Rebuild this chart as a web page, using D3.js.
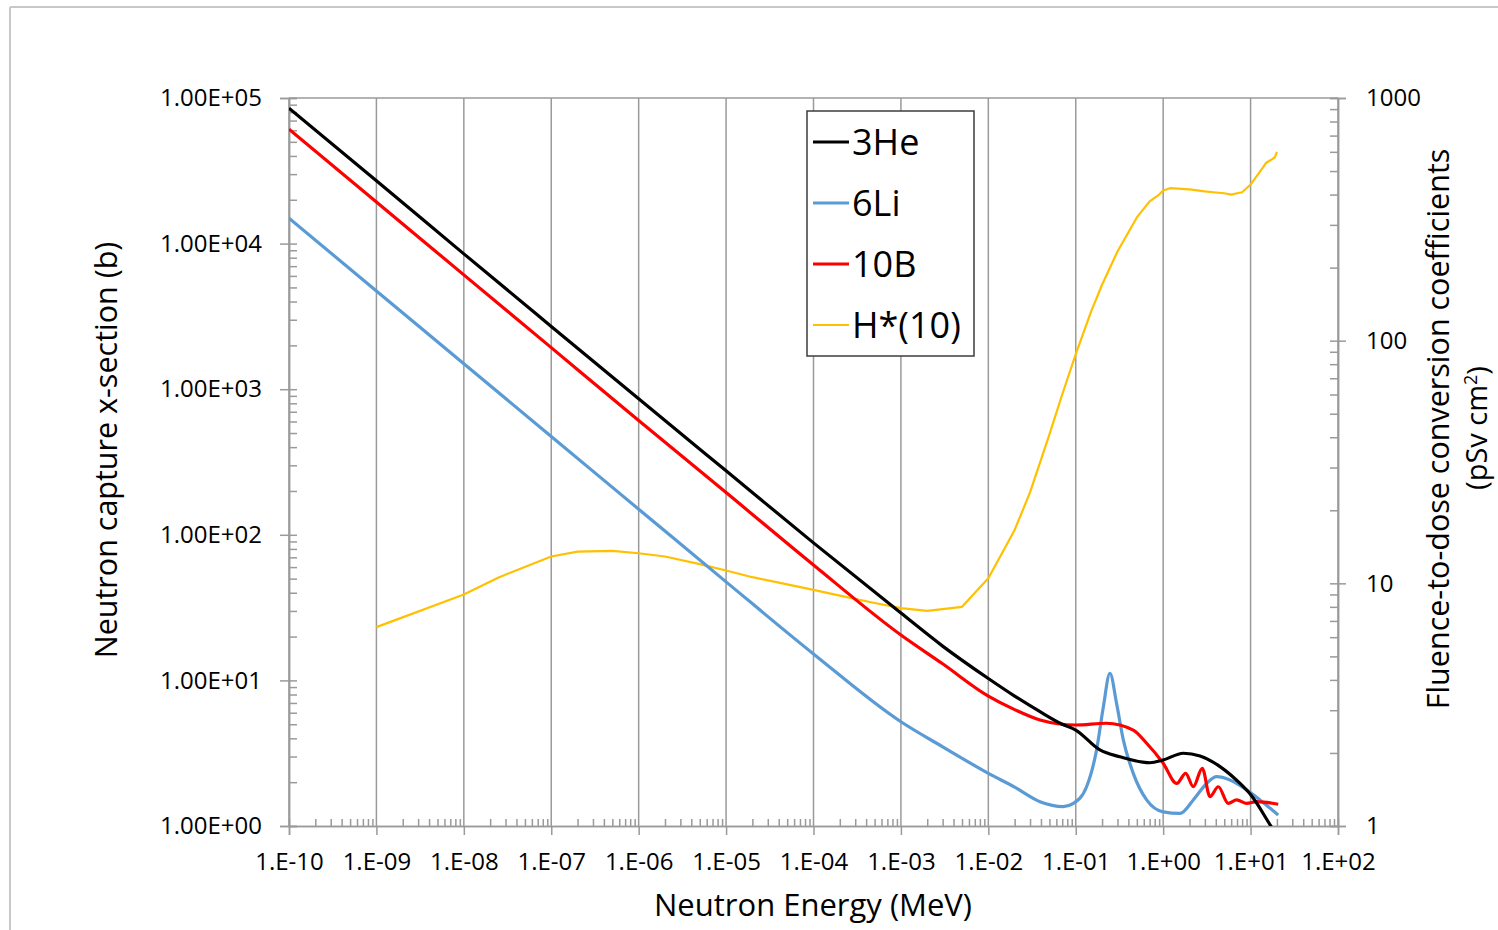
<!doctype html>
<html>
<head>
<meta charset="UTF-8">
<title>Neutron capture x-section</title>
<script src="https://cdn.jsdelivr.net/npm/d3@7"></script>
<style>
  body { margin: 0; background: #fff; }
  svg text { font-family: "Open Sans", Lato, sans-serif; fill: #000; }
</style>
</head>
<body>
<svg id="chart" width="1498" height="930"></svg>
<script>
// energies in MeV, cross sections in barns, H*(10) in pSv cm2
var heE = [1e-10, 1e-9, 1e-8, 1e-7, 1e-6, 1e-5, 1e-4, 1e-3, 3e-3, 1e-2, 0.02, 0.039, 0.07, 0.1, 0.189, 0.32, 0.706, 1.0, 1.7, 2.64, 4.47, 7.57, 10.1, 16.7, 20];
var heS = [85000, 27000, 8500, 2700, 860, 275, 88, 29, 17.2, 10.3, 7.8, 6.1, 5.0, 4.56, 3.33, 2.99, 2.72, 2.84, 3.16, 3.03, 2.56, 1.96, 1.63, 1.02, 0.86];

var liE = [1e-10, 1e-9, 1e-8, 1e-7, 1e-6, 1e-5, 1e-4, 1e-3, 3e-3, 1e-2, 0.02, 0.039, 0.072, 0.094, 0.133, 0.173, 0.207, 0.246, 0.293, 0.35, 0.455, 0.647, 1.0, 1.56, 2.21, 3.14, 4.09, 5.81, 9.02, 12.8, 20.7];
var liS = [14950, 4730, 1495, 473, 150, 47.5, 15.2, 5.2, 3.5, 2.3, 1.85, 1.47, 1.36, 1.43, 1.86, 3.33, 6.6, 11.2, 6.96, 3.9, 2.3, 1.51, 1.25, 1.22, 1.51, 1.96, 2.18, 2.07, 1.77, 1.51, 1.19];

var bE = [1e-10, 1e-9, 1e-8, 1e-7, 1e-6, 1e-5, 1e-4, 1e-3, 3e-3, 1e-2, 0.02, 0.039, 0.1, 0.225, 0.455, 0.647, 1.0, 1.43, 1.81, 2.21, 2.8, 3.43, 4.27, 5.56, 6.93, 9.02, 11.7, 20.7];
var bS = [61000, 19300, 6100, 1930, 610, 195, 62, 20.5, 13.0, 7.8, 6.3, 5.35, 4.94, 5.08, 4.56, 3.7, 2.7, 1.96, 2.3, 1.86, 2.49, 1.59, 1.86, 1.43, 1.51, 1.43, 1.47, 1.41];

var hE = [1e-9, 1e-8, 2.53e-8, 1e-7, 2e-7, 5e-7, 1e-6, 2e-6, 5e-6, 1e-5, 2e-5, 5e-5, 1e-4, 2e-4, 5e-4, 1e-3, 2e-3, 5e-3, 1e-2, 2e-2, 3e-2, 5e-2, 7e-2, 0.1, 0.15, 0.2, 0.3, 0.5, 0.7, 0.9, 1.0, 1.2, 2.0, 3.0, 4.0, 5.0, 6.0, 7.0, 8.0, 10, 14, 15, 17, 19, 20];
var hS = [6.6, 9.0, 10.6, 12.9, 13.5, 13.6, 13.3, 12.9, 12.0, 11.3, 10.6, 9.9, 9.4, 8.9, 8.3, 7.9, 7.7, 8.0, 10.5, 16.6, 23.7, 41.1, 60, 88, 132, 170, 233, 322, 375, 400, 416, 425, 420, 412, 408, 405, 400, 405, 409, 440, 520, 540, 555, 570, 600];

var seriesNames = ["3He", "6Li", "10B", "H*(10)"];
var seriesColors = ["#000000", "#5b9bd5", "#ff0000", "#ffc000"];

var xTicks = [1e-10, 1e-9, 1e-8, 1e-7, 1e-6, 1e-5, 1e-4, 1e-3, 1e-2, 1e-1, 1, 10, 100];
var xTickLabels = ["1.E-10", "1.E-09", "1.E-08", "1.E-07", "1.E-06", "1.E-05", "1.E-04", "1.E-03", "1.E-02", "1.E-01", "1.E+00", "1.E+01", "1.E+02"];
var yLTicks = [1, 10, 100, 1000, 10000, 100000];
var yLTickLabels = ["1.00E+00", "1.00E+01", "1.00E+02", "1.00E+03", "1.00E+04", "1.00E+05"];
var yRTicks = [1, 10, 100, 1000];
var yRTickLabels = ["1", "10", "100", "1000"];

var pLeft = 289, pRight = 1338, pTop = 98, pBottom = 826;
var svg = d3.select("#chart");

var x = d3.scaleLog().domain([1e-10, 1e2]).range([pLeft, pRight]);
var yL = d3.scaleLog().domain([1, 1e5]).range([pBottom, pTop]);
var yR = d3.scaleLog().domain([1, 1e3]).range([pBottom, pTop]);

function minors(lo, hi) {
    var out = [];
    for (var p = lo; p < hi; p++) {
        for (var m = 2; m <= 9; m++) out.push(m * Math.pow(10, p));
    }
    return out;
}

// page frame
svg.append("line").attr("x1", 10).attr("y1", 7).attr("x2", 1498).attr("y2", 7).attr("stroke", "#c8c8c8").attr("stroke-width", 2);
svg.append("line").attr("x1", 10).attr("y1", 7).attr("x2", 10).attr("y2", 930).attr("stroke", "#c8c8c8").attr("stroke-width", 2);

var grid = "#9a9a9a";

// vertical gridlines
svg.append("g").selectAll("line").data(xTicks).enter().append("line")
    .attr("x1", function(d){ return x(d); })
    .attr("x2", function(d){ return x(d); })
    .attr("y1", pTop).attr("y2", pBottom)
    .attr("stroke", grid).attr("stroke-width", 1.5);
svg.append("line").attr("x1", pLeft).attr("x2", pRight).attr("y1", pTop).attr("y2", pTop)
    .attr("stroke", grid).attr("stroke-width", 1.5);

// bottom axis
var xAxis = svg.append("g").attr("transform", "translate(0," + pBottom + ")")
    .call(d3.axisBottom(x).tickValues(xTicks).tickSize(9).tickFormat(function(d, i){ return xTickLabels[i]; }));
svg.append("g").attr("transform", "translate(0," + pBottom + ")")
    .call(d3.axisBottom(x).tickValues(minors(-10, 2)).tickSize(-7).tickFormat(""));

// left axis
var yLAxis = svg.append("g").attr("transform", "translate(" + pLeft + ",0)")
    .call(d3.axisLeft(yL).tickValues(yLTicks).tickSize(9).tickFormat(function(d, i){ return yLTickLabels[i]; }));
svg.append("g").attr("transform", "translate(" + pLeft + ",0)")
    .call(d3.axisLeft(yL).tickValues(minors(0, 5)).tickSize(-8).tickFormat(""));

// right axis
var yRAxis = svg.append("g").attr("transform", "translate(" + pRight + ",0)")
    .call(d3.axisRight(yR).tickValues(yRTicks).tickSize(8).tickFormat(function(d, i){ return yRTickLabels[i]; }));
svg.append("g").attr("transform", "translate(" + pRight + ",0)")
    .call(d3.axisRight(yR).tickValues(minors(0, 3)).tickSize(-8).tickFormat(""));

svg.selectAll(".domain").attr("stroke", grid).attr("stroke-width", 1.5);
svg.selectAll(".tick line").attr("stroke", grid).attr("stroke-width", 1.5);
svg.selectAll(".tick text").attr("font-size", 24).attr("font-family", null).attr("fill", "#000");
xAxis.selectAll(".tick text").attr("y", 27).attr("dy", "0.71em");
yLAxis.selectAll(".tick text").attr("x", -27);
yRAxis.selectAll(".tick text").attr("x", 28);
// major ticks cross the axis line
yLAxis.selectAll(".tick line").attr("x1", 8);
yRAxis.selectAll(".tick line").attr("x1", -8);

// series
svg.append("defs").append("clipPath").attr("id", "plot")
    .append("rect").attr("x", pLeft).attr("y", pTop).attr("width", pRight - pLeft).attr("height", pBottom - pTop);

function pts(es, vs) {
    return es.map(function(e, i){ return [e, vs[i]]; });
}

var lineL = d3.line().x(function(d){ return x(d[0]); }).y(function(d){ return yL(d[1]); }).curve(d3.curveMonotoneX);
var lineR = d3.line().x(function(d){ return x(d[0]); }).y(function(d){ return yR(d[1]); });

var plot = svg.append("g").attr("clip-path", "url(#plot)");
plot.append("path").attr("d", lineR(pts(hE, hS))).attr("fill", "none").attr("stroke", seriesColors[3]).attr("stroke-width", 2.2).attr("stroke-linejoin", "round");
plot.append("path").attr("d", lineL(pts(liE, liS))).attr("fill", "none").attr("stroke", seriesColors[1]).attr("stroke-width", 3.2);
plot.append("path").attr("d", lineL(pts(bE, bS))).attr("fill", "none").attr("stroke", seriesColors[2]).attr("stroke-width", 3.2);
plot.append("path").attr("d", lineL(pts(heE, heS))).attr("fill", "none").attr("stroke", seriesColors[0]).attr("stroke-width", 3.2);

// legend
var leg = svg.append("g");
leg.append("rect").attr("x", 807).attr("y", 111).attr("width", 167).attr("height", 245)
    .attr("fill", "#fff").attr("stroke", "#3c3c3c").attr("stroke-width", 1.5);
seriesNames.forEach(function(n, i){
    var yy = 142 + i * 61;
    leg.append("line").attr("x1", 813).attr("x2", 849).attr("y1", yy).attr("y2", yy)
        .attr("stroke", seriesColors[i]).attr("stroke-width", i == 3 ? 2.2 : 3.2);
    leg.append("text").attr("x", 852).attr("y", yy).attr("dy", "0.36em")
        .attr("font-size", 36).text(n);
});

// axis titles
svg.append("text").attr("x", 813).attr("y", 905).attr("dy", "0.36em")
    .attr("text-anchor", "middle").attr("font-size", 31).text("Neutron Energy (MeV)");
svg.append("text").attr("transform", "translate(106,450) rotate(-90)").attr("dy", "0.36em")
    .attr("text-anchor", "middle").attr("font-size", 30.5).text("Neutron capture x-section (b)");
svg.append("text").attr("transform", "translate(1438,429) rotate(-90)").attr("dy", "0.36em")
    .attr("text-anchor", "middle").attr("font-size", 30.5).text("Fluence-to-dose conversion coefficients");
var t2 = svg.append("text").attr("transform", "translate(1477,428) rotate(-90)").attr("dy", "0.36em")
    .attr("text-anchor", "middle").attr("font-size", 29);
t2.append("tspan").text("(pSv cm");
t2.append("tspan").attr("font-size", 18).attr("dy", "-0.6em").text("2");
t2.append("tspan").attr("dy", "0.38em").text(")");
</script>
</body>
</html>
